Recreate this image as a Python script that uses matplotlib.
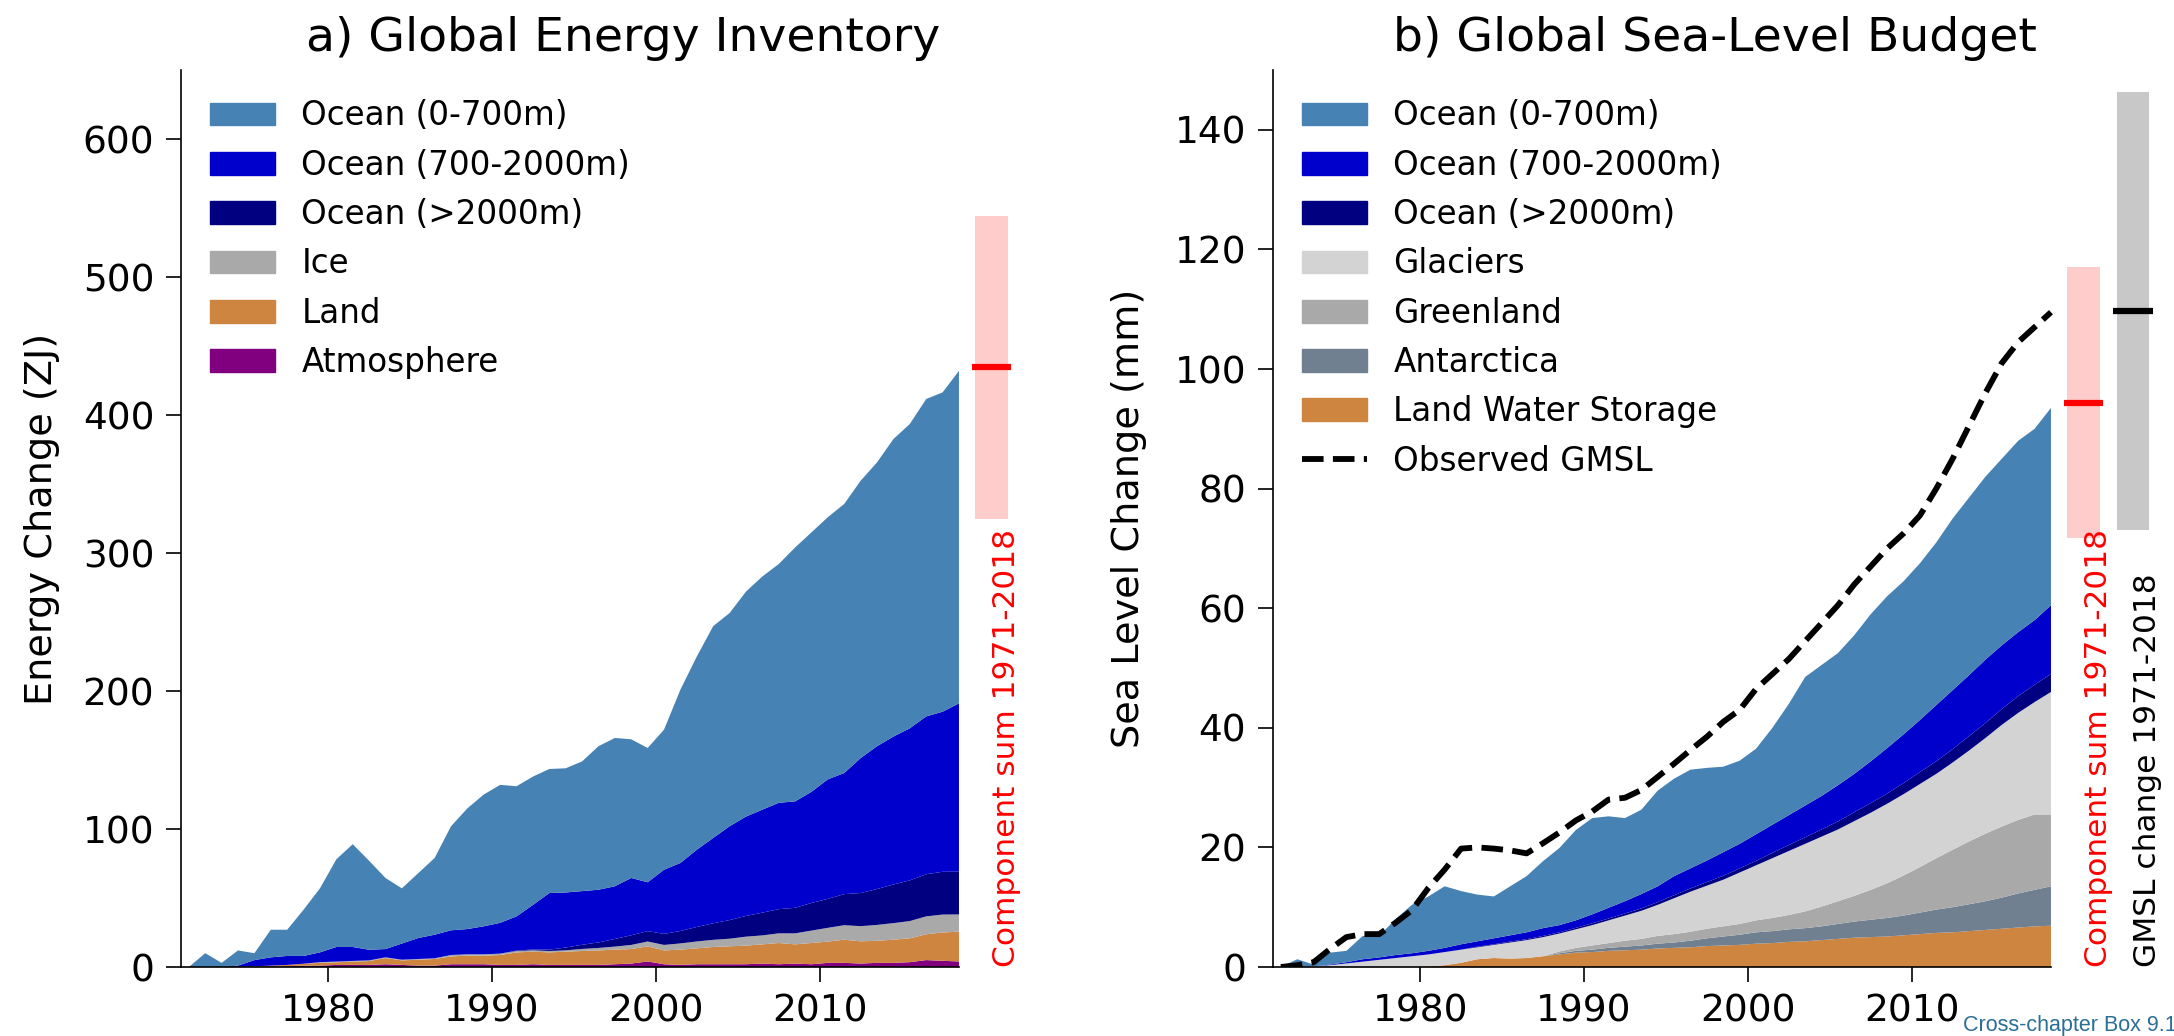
import numpy as np
import matplotlib
matplotlib.use("Agg")
import matplotlib.pyplot as plt
from matplotlib.patches import Patch
from matplotlib.lines import Line2D

plt.rcParams['font.family'] = ['DejaVu Sans']

years = np.arange(1971, 2019)

# ---------------- Panel a: energy inventory (ZJ), per component ----------------
atmosphere = [0, 0, 0, 0, 0, 0, 0.5, 1, 1, 1.5, 1.5, 1.5, 2, 1.5, 1, 1, 2, 2, 2, 1.5,
              1.5, 2, 1.5, 1.5, 1.5, 1.5, 2, 2.5, 4, 2, 1.5, 2, 2, 2, 2, 2.5, 2, 2.5, 2, 3,
              3, 2.5, 3, 3, 3.5, 5, 4.5, 4]
land = [0, 0, 0, 0, 0.5, 1, 1, 1.4, 2, 1.9, 2.4, 2.8, 4.5, 3.3, 4.3, 4.8, 5.7, 6.2, 6.2, 7.2,
        9.1, 9.1, 9.1, 9.6, 10.1, 10.5, 10.6, 10.5, 11, 10, 11.1, 11.5, 12.5, 13, 13.5, 13.9,
        15.4, 13.9, 15.4, 15.4, 16.8, 16.1, 16, 16.8, 17.3, 18.7, 20.5, 21.6]
ice = [0, 0, 0, 0, 0, 0, 0, 0, 0.5, 0.5, 0.5, 0.5, 0.5, 0.5, 0.5, 0.5, 1, 1, 1, 1,
       1, 1, 1, 1, 1.5, 1.8, 2.2, 3, 3.5, 4, 4.5, 5, 5.2, 5.5, 6.5, 6.5, 7, 8, 9, 10,
       10.5, 11, 11.5, 12, 12.5, 13, 13, 12.5]
ocean_deep_a = [0] * 20 + [0.3, 0.6, 1, 2, 3, 4, 5.5, 7, 7.5, 8, 9, 10.5, 12, 13.5, 15, 16.5,
                           17.5, 18.5, 20, 21, 22.5, 24, 26, 28, 29.5, 30.5, 31, 31]
ocean_mid_a = [0, 0, 0, 1, 4.5, 6, 6.5, 5.6, 7.1, 10.6, 10.1, 7.7, 6, 11.7, 15.2, 17.1, 17.9,
               18.3, 20.3, 22.3, 24.8, 32.3, 41, 39.9, 38.9, 38.2, 38.2, 41.5, 35.4, 46.5, 49.3,
               56, 61.8, 68, 72, 74.6, 77.1, 77.1, 80.6, 86.6, 87.8, 97.8, 103.5, 107.2, 110.2,
               114.4, 116, 121.9]
ocean_upper_a = [0, 10, 3, 11, 5, 20, 19, 33.5, 46.4, 63.5, 74.5, 64.5, 51.5, 40, 47, 55.6,
                 75.4, 87.5, 95.5, 100, 94.3, 93, 89.9, 90, 94, 104, 107.5, 100.5, 97.3, 101.5,
                 125.6, 140, 153.5, 154.5, 163, 169, 173, 184, 188, 190, 195, 201, 205.7, 215.6,
                 220.5, 230, 231.4, 241]
energy_sum = 434.6
energy_sum_range = (324.5, 544.0)

# ---------------- Panel b: sea-level budget (mm), per component ----------------
land_water = [0, 0, 0, 0, 0, 0, 0, 0, 0, 0.1, 0.3, 0.7, 1.3, 1.5, 1.4, 1.5, 1.8, 2.1, 2.4,
              2.5, 2.7, 2.8, 2.9, 3.1, 3.2, 3.3, 3.5, 3.6, 3.7, 3.9, 4.0, 4.2, 4.3, 4.5, 4.7,
              4.9, 5.0, 5.1, 5.3, 5.5, 5.7, 5.8, 6.0, 6.2, 6.4, 6.6, 6.8, 6.9]
antarctica = [0] * 17 + [0.2, 0.3, 0.4, 0.5, 0.6, 0.7, 0.8, 0.9, 1.1, 1.3, 1.5, 1.7, 1.9, 2.0,
                         2.1, 2.2, 2.3, 2.5, 2.7, 2.9, 3.1, 3.3, 3.6, 3.9, 4.2, 4.5, 4.8, 5.2,
                         5.7, 6.1, 6.6]
greenland = [0] * 17 + [0.3, 0.5, 0.7, 0.8, 1.0, 1.1, 1.3, 1.4, 1.5, 1.6, 1.7, 1.8, 2.0, 2.2,
                        2.4, 2.8, 3.3, 3.8, 4.3, 5.0, 5.8, 6.7, 7.6, 8.6, 9.6, 10.5, 11.3, 11.9,
                        12.3, 12.6, 12.0]
glaciers = [0, 0, 0.1, 0.3, 0.6, 0.9, 1.2, 1.5, 1.8, 2.0, 2.2, 2.2, 2.0, 2.2, 2.7, 3.0, 3.2,
            3.0, 3.1, 3.4, 3.8, 4.2, 4.7, 5.2, 6.0, 6.7, 7.2, 7.8, 8.6, 9.2, 10.0, 10.7, 11.3,
            11.7, 12.0, 12.5, 12.9, 13.3, 13.6, 13.9, 14.1, 14.6, 15.2, 16.0, 17.0, 17.9, 18.8,
            20.5]
ocean_deep_b = [0] * 12 + [0.1, 0.1, 0.15, 0.15, 0.2, 0.2, 0.25, 0.3, 0.3, 0.35, 0.4, 0.45,
                           0.5, 0.55, 0.6, 0.65, 0.7, 0.75, 0.9, 1.0, 1.1, 1.2, 1.35, 1.5, 1.6,
                           1.7, 1.85, 2.0, 2.1, 2.25, 2.4, 2.5, 2.65, 2.8, 2.9, 3.0]
ocean_mid_b = [0, 0, 0, 0.1, 0.2, 0.4, 0.4, 0.5, 0.5, 0.6, 0.7, 0.9, 0.9, 1.0, 1.05, 1.15, 1.3,
               1.2, 1.25, 1.5, 1.8, 2.05, 2.4, 2.65, 3.2, 3.35, 3.6, 3.95, 4.1, 4.45, 4.7, 5.0,
               5.3, 5.6, 6.05, 6.4, 7.0, 7.6, 8.15, 8.7, 9.4, 9.85, 10.2, 10.6, 10.65, 10.7,
               10.8, 11.5]
ocean_upper_b = [0, 1.3, 0.3, 2.0, 1.9, 3.9, 3.6, 6.0, 8.1, 9.1, 10.3, 8.9, 7.8, 7.0, 8.2, 9.4,
                 11.2, 12.9, 15.1, 16.1, 15.3, 13.9, 14.1, 16.0, 16.3, 16.5, 15.5, 14.3, 13.9,
                 14.3, 16.2, 18.6, 21.5, 21.9, 22.1, 23.2, 24.6, 25.4, 25.6, 26.2, 27.2, 28.7,
                 29.7, 30.6, 31.2, 32.0, 32.0, 33.0]
observed_gmsl = [0, 0.3, 0.8, 3, 5, 5.5, 5.5, 7.4, 9.5, 13.2, 16.3, 19.8, 20, 19.8, 19.5, 19,
                 20.7, 22.5, 24.5, 26, 28, 28.3, 29.6, 31.8, 34, 36.3, 38.5, 41, 43, 46.5, 49,
                 51.5, 54.5, 57.5, 60.5, 64, 67, 70, 72.5, 75.5, 80, 85, 90.5, 96, 101, 104.5,
                 107, 109.5]
sl_sum = 94.3
sl_sum_range = (71.7, 117.0)
gmsl_change = 109.7
gmsl_change_range = (73.0, 146.3)

# ---------------- styling ----------------
C_UP, C_MID, C_DEEP = '#4682b4', '#0000cd', '#000080'
C_ICE, C_LAND, C_ATM = '#a9a9a9', '#cd853f', '#800080'
C_GLAC, C_GRE, C_ANT = '#d3d3d3', '#a9a9a9', '#708090'
PINK, GREYBAR = '#ffcccc', '#c8c8c8'

TICK_FS, LABEL_FS, TITLE_FS, LEG_FS, ANN_FS = 27, 27.5, 34, 23.5, 22.5

t = years + 0.5  # annual means at mid-year

fig = plt.figure(figsize=(21.74, 10.36), dpi=100)
ax1 = fig.add_axes([0.0831, 0.0666, 0.407, 0.8658])
ax2 = fig.add_axes([0.5854, 0.0666, 0.407, 0.8658])


def style_axis(ax, ymax, yticks, label_x):
    ax.set_xlim(1971, 2025)
    ax.set_ylim(0, ymax)
    for s in ('top', 'right'):
        ax.spines[s].set_visible(False)
    ax.spines['bottom'].set_bounds(1971, t[-1])
    ax.spines['left'].set_linewidth(1.2)
    ax.spines['bottom'].set_linewidth(1.2)
    ax.set_xticks([1980, 1990, 2000, 2010])
    ax.set_yticks(yticks)
    ax.tick_params(axis='both', labelsize=TICK_FS, length=11, width=1.2, pad=8)
    ax.yaxis.set_label_coords(label_x, 0.5)


# Panel a
ax1.stackplot(t, atmosphere, land, ice, ocean_deep_a, ocean_mid_a, ocean_upper_a,
              colors=[C_ATM, C_LAND, C_ICE, C_DEEP, C_MID, C_UP], linewidth=0)
xa = 2020.5
ax1.bar(xa, energy_sum_range[1] - energy_sum_range[0], bottom=energy_sum_range[0],
        width=2, color=PINK, linewidth=0)
ax1.hlines(energy_sum, xa - 1.2, xa + 1.2, color='red', linewidth=4.5)
ax1.text(xa, 0, 'Component sum 1971-2018', rotation=90, color='red', fontsize=ANN_FS,
         ha='left', va='bottom')
style_axis(ax1, 650, np.arange(0, 601, 100), -0.136)
ax1.set_ylabel('Energy Change (ZJ)', fontsize=LABEL_FS)
ax1.set_title('a) Global Energy Inventory', fontsize=TITLE_FS, pad=14)
handles_a = [Patch(color=C_UP, label='Ocean (0-700m)'),
             Patch(color=C_MID, label='Ocean (700-2000m)'),
             Patch(color=C_DEEP, label='Ocean (>2000m)'),
             Patch(color=C_ICE, label='Ice'),
             Patch(color=C_LAND, label='Land'),
             Patch(color=C_ATM, label='Atmosphere')]
ax1.legend(handles=handles_a, loc='upper left', frameon=False, fontsize=LEG_FS)

# Panel b
ax2.stackplot(t, land_water, antarctica, greenland, glaciers, ocean_deep_b, ocean_mid_b,
              ocean_upper_b,
              colors=[C_LAND, C_ANT, C_GRE, C_GLAC, C_DEEP, C_MID, C_UP], linewidth=0)
ax2.plot(t, observed_gmsl, color='black', linestyle='--', linewidth=4.2)
xb1, xb2 = 2020.5, 2023.5
ax2.bar(xb1, sl_sum_range[1] - sl_sum_range[0], bottom=sl_sum_range[0], width=2,
        color=PINK, linewidth=0)
ax2.hlines(sl_sum, xb1 - 1.2, xb1 + 1.2, color='red', linewidth=4.5)
ax2.bar(xb2, gmsl_change_range[1] - gmsl_change_range[0], bottom=gmsl_change_range[0],
        width=2, color=GREYBAR, linewidth=0)
ax2.hlines(gmsl_change, xb2 - 1.2, xb2 + 1.2, color='black', linewidth=4.5)
ax2.text(xb1, 0, 'Component sum 1971-2018', rotation=90, color='red', fontsize=ANN_FS,
         ha='left', va='bottom')
ax2.text(xb2, 0, 'GMSL change 1971-2018', rotation=90, color='black', fontsize=ANN_FS,
         ha='left', va='bottom')
style_axis(ax2, 150, np.arange(0, 141, 20), -0.142)
ax2.set_ylabel('Sea Level Change (mm)', fontsize=LABEL_FS)
ax2.set_title('b) Global Sea-Level Budget', fontsize=TITLE_FS, pad=14)
handles_b = [Patch(color=C_UP, label='Ocean (0-700m)'),
             Patch(color=C_MID, label='Ocean (700-2000m)'),
             Patch(color=C_DEEP, label='Ocean (>2000m)'),
             Patch(color=C_GLAC, label='Glaciers'),
             Patch(color=C_GRE, label='Greenland'),
             Patch(color=C_ANT, label='Antarctica'),
             Patch(color=C_LAND, label='Land Water Storage'),
             Line2D([], [], color='black', linestyle='--', linewidth=4.2, label='Observed GMSL')]
ax2.legend(handles=handles_b, loc='upper left', frameon=False, fontsize=LEG_FS)

fig.text(1963 / 2174, 1 - 1031 / 1036, 'Cross-chapter Box 9.1', color='#2b6e96',
         fontsize=15.5, family=['Liberation Sans', 'DejaVu Sans'], ha='left', va='baseline')

fig.savefig('out.png', dpi=100)
